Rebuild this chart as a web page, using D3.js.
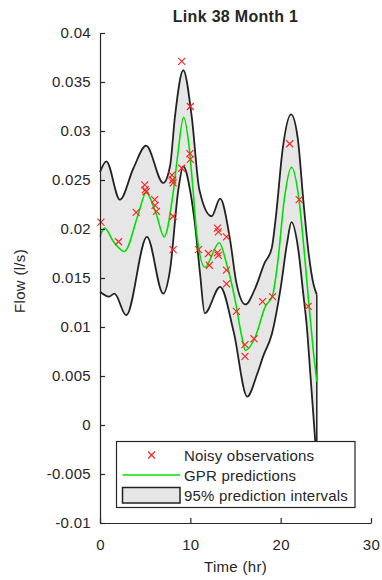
<!DOCTYPE html>
<html>
<head>
<meta charset="utf-8">
<script src="https://cdn.jsdelivr.net/npm/d3@7"></script>
<style>
  body { margin: 0; background: #fff; }
  text { font-family: 'Liberation Sans', Arial, sans-serif; fill: #262626; }
</style>
</head>
<body>
<div id="chart"></div>
<script>
// observed points (hours, l/s)
const obsT = [0.1, 2.05, 4.0, 4.95, 5.0, 5.1, 6.05, 6.1, 6.25, 7.95, 8.05, 8.1, 8.1, 8.1,
  9.05, 9.05, 10.0, 9.95, 10.0, 10.9, 12.0, 12.1, 13.0, 13.1, 13.0, 13.1,
  14.0, 14.0, 14.0, 15.1, 16.05, 16.05, 17.05, 18.0, 19.1, 21.0, 22.05, 23.05]
const obsV = [0.0207, 0.0187, 0.0217, 0.0245, 0.0240, 0.0238, 0.0230, 0.0224, 0.0218, 0.0255, 0.0250, 0.0247, 0.0213, 0.0179,
  0.0371, 0.0262, 0.0325, 0.0277, 0.0271, 0.0179, 0.0175, 0.0163, 0.0201, 0.0197, 0.0176, 0.0173,
  0.0192, 0.0158, 0.0144, 0.0116, 0.0082, 0.0070, 0.0088, 0.0126, 0.0131, 0.0287, 0.0230, 0.0121]

// GPR mean
const meanT = [0, 0.5, 1.5, 2.7, 4.2, 5.1, 6.2, 7.1, 8.1, 8.6, 9.25, 9.85, 10.3, 10.7, 11.6, 13.2,
  14.0, 14.95, 15.7, 16.1, 17.2, 18.3, 19.1, 19.7, 20.4, 21.2, 22.0, 22.6, 23.1, 23.6, 24]
const meanV = [0.0192, 0.0201, 0.0187, 0.0177, 0.0214, 0.0237, 0.0216, 0.0192, 0.0237, 0.0275, 0.0314, 0.0285, 0.0240, 0.0196, 0.0161, 0.0186,
  0.0165, 0.0128, 0.0090, 0.0076, 0.0090, 0.0121, 0.0132, 0.0168, 0.0230, 0.0263, 0.0232, 0.0178, 0.0126, 0.0077, 0.0044]

// 95% interval, upper edge
const upT = [0, 0.7, 2.2, 3.7, 5.1, 7.0, 7.75, 8.3, 9.22, 10.15, 11.0, 12.35, 13.3, 14.4, 15.1,
  16.1, 17.2, 18.2, 19.0, 19.5, 20.2, 21.15, 21.9, 22.5, 23.1, 23.6, 24]
const upV = [0.0258, 0.0269, 0.0230, 0.0262, 0.0285, 0.0247, 0.0264, 0.0315, 0.0362, 0.0315, 0.0240, 0.0213, 0.0231, 0.0189, 0.0145,
  0.0123, 0.0140, 0.0165, 0.0180, 0.0215, 0.0280, 0.0317, 0.0292, 0.0230, 0.0175, 0.0145, 0.0133]

// 95% interval, lower edge
const loT = [0, 1.0, 1.6, 2.9, 5.2, 7.0, 7.75, 8.67, 9.22, 10.0, 10.5, 11.07, 11.6, 13.3, 14.8,
  16.3, 17.4, 18.1, 19.0, 20.0, 20.7, 21.2, 21.95, 22.5, 22.9, 23.3, 23.7, 24]
const loV = [0.0136, 0.0131, 0.0134, 0.0112, 0.0192, 0.0134, 0.0158, 0.0240, 0.0264, 0.0238, 0.0206, 0.0155, 0.0114, 0.0141, 0.0095,
  0.0029, 0.0052, 0.0071, 0.0092, 0.0140, 0.0185, 0.0207, 0.0179, 0.0134, 0.0100, 0.0050, 0.0000, -0.0040]

const xTicks = [0, 10, 20, 30]
const yTicks = [0.04, 0.035, 0.03, 0.025, 0.02, 0.015, 0.01, 0.005, 0, -0.005, -0.01]
const yTickLabels = ['0.04', '0.035', '0.03', '0.025', '0.02', '0.015', '0.01', '0.005', '0', '-0.005', '-0.01']
const legendLabels = ['Noisy observations', 'GPR predictions', '95% prediction intervals']

const W = 382
const H = 580
const plotLeft = 100
const plotRight = 371
const plotTop = 33
const plotBottom = 523

const svg = d3.select('#chart')
  .append('svg')
  .attr('width', W)
  .attr('height', H)

const x = d3.scaleLinear().domain([0, 30]).range([plotLeft, plotRight])
const y = d3.scaleLinear().domain([-0.01, 0.04]).range([plotBottom, plotTop])

const zip = (ts, vs) => ts.map((t, i) => [t, vs[i]])
const upper = zip(upT, upV)
const lower = zip(loT, loV)
const mean = zip(meanT, meanV)

const line = d3.line()
  .x(d => x(d[0]))
  .y(d => y(d[1]))
  .curve(d3.curveMonotoneX)

const areaDown = d3.area()
  .x(d => x(d[0]))
  .y0(y(-0.01))
  .y1(d => y(d[1]))
  .curve(d3.curveMonotoneX)

// band: grey under the upper edge, then white under the lower edge
svg.append('path').datum(upper).attr('d', areaDown).attr('fill', '#e6e6e6')
svg.append('path').datum(lower).attr('d', areaDown).attr('fill', '#fff')

svg.append('path').datum(upper).attr('d', line)
  .attr('fill', 'none').attr('stroke', '#222').attr('stroke-width', 1.8)
svg.append('path').datum(lower).attr('d', line)
  .attr('fill', 'none').attr('stroke', '#222').attr('stroke-width', 1.8)
// closing edge at the end of the band
svg.append('line')
  .attr('x1', x(upT[upT.length - 1])).attr('x2', x(loT[loT.length - 1]))
  .attr('y1', y(upV[upV.length - 1])).attr('y2', y(loV[loV.length - 1]))
  .attr('stroke', '#222').attr('stroke-width', 1.5)

svg.append('path').datum(mean).attr('d', line)
  .attr('fill', 'none').attr('stroke', '#00e000').attr('stroke-width', 1.6)

// red x markers
const cross = 'M-3.5,-3.5L3.5,3.5M-3.5,3.5L3.5,-3.5'
svg.selectAll('.obs')
  .data(zip(obsT, obsV))
  .enter()
  .append('path')
  .attr('class', 'obs')
  .attr('d', cross)
  .attr('transform', d => 'translate(' + x(d[0]) + ',' + y(d[1]) + ')')
  .attr('fill', 'none')
  .attr('stroke', '#ff2020')
  .attr('stroke-width', 1.1)

// axes, ticks pointing in
const yAxis = d3.axisLeft(y)
  .tickValues(yTicks)
  .tickFormat((d, i) => yTickLabels[i])
  .tickSizeInner(-5)
  .tickSizeOuter(0)
  .tickPadding(9)
svg.append('g')
  .attr('class', 'axis y-axis')
  .attr('transform', 'translate(' + plotLeft + ',0)')
  .call(yAxis)

const xAxis = d3.axisBottom(x)
  .tickValues(xTicks)
  .tickFormat(d3.format('d'))
  .tickSizeInner(-5)
  .tickSizeOuter(0)
  .tickPadding(16)
svg.append('g')
  .attr('class', 'axis x-axis')
  .attr('transform', 'translate(0,' + plotBottom + ')')
  .call(xAxis)

svg.selectAll('.axis path, .axis line').attr('stroke', '#262626').attr('stroke-width', 1.2)
svg.selectAll('.axis text')
  .attr('fill', '#262626')
  .style('font-size', '15px')
  .style('letter-spacing', '0.3px')

// titles
svg.append('text')
  .attr('x', (plotLeft + plotRight) / 2)
  .attr('y', 22)
  .attr('text-anchor', 'middle')
  .style('font-size', '16px')
  .style('font-weight', 'bold')
  .style('letter-spacing', '0.3px')
  .text('Link 38 Month 1')

svg.append('text')
  .attr('x', (plotLeft + plotRight) / 2)
  .attr('y', 572)
  .attr('text-anchor', 'middle')
  .style('font-size', '15px')
  .style('letter-spacing', '0.3px')
  .text('Time (hr)')

svg.append('text')
  .attr('transform', 'translate(25,' + ((plotTop + plotBottom) / 2 + 3) + ') rotate(-90)')
  .attr('text-anchor', 'middle')
  .style('font-size', '15px')
  .style('letter-spacing', '0.3px')
  .text('Flow (l/s)')

// legend
const legend = svg.append('g').attr('class', 'legend')
legend.append('rect')
  .attr('x', 116.5).attr('y', 441.5)
  .attr('width', 238.5).attr('height', 66)
  .attr('fill', '#fff').attr('stroke', '#262626').attr('stroke-width', 1.2)

legend.append('path')
  .attr('d', cross)
  .attr('transform', 'translate(151.5,455)')
  .attr('fill', 'none').attr('stroke', '#ff2020').attr('stroke-width', 1.1)
legend.append('line')
  .attr('x1', 122.5).attr('x2', 180).attr('y1', 475).attr('y2', 475)
  .attr('stroke', '#00e000').attr('stroke-width', 1.6)
legend.append('rect')
  .attr('x', 122.5).attr('y', 487.5).attr('width', 57.5).attr('height', 15.5)
  .attr('fill', '#e6e6e6').attr('stroke', '#222').attr('stroke-width', 1.5)

legend.selectAll('.lab')
  .data(legendLabels)
  .enter()
  .append('text')
  .attr('class', 'lab')
  .attr('x', 184)
  .attr('y', (d, i) => 460.5 + i * 20)
  .style('font-size', '15px')
  .style('letter-spacing', '0.2px')
  .text(d => d)
</script>
</body>
</html>
